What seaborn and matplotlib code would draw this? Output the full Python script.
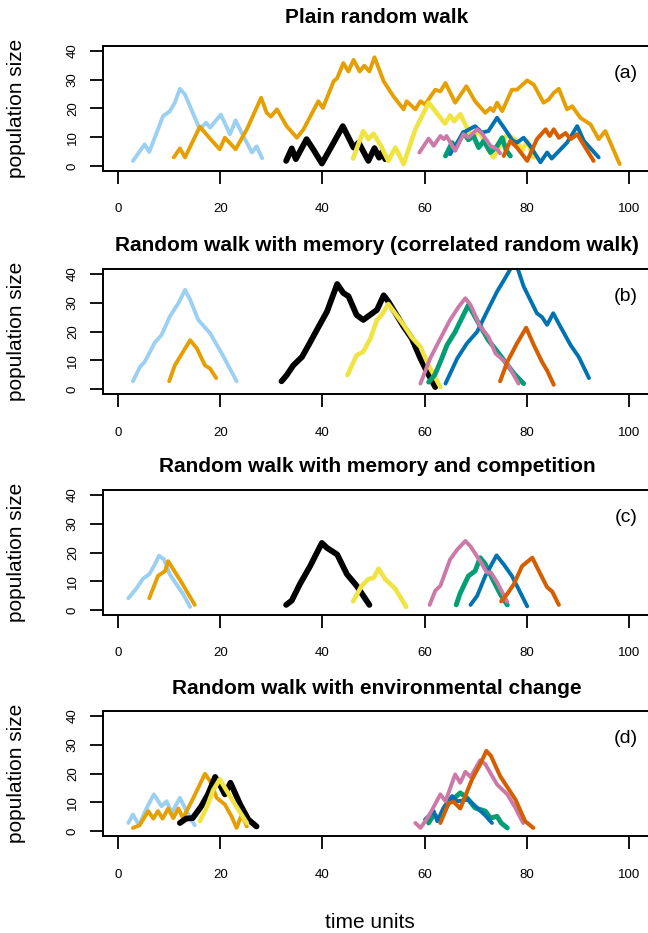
import numpy as np
import pandas as pd
import matplotlib
matplotlib.use("Agg")
import matplotlib.pyplot as plt
import seaborn as sns

# ---------------- data ----------------
titles = ["Plain random walk",
          "Random walk with memory (correlated random walk)",
          "Random walk with memory and competition",
          "Random walk with environmental change"]
panel_labels = ["(a)", "(b)", "(c)", "(d)"]
x_ticks = [0, 20, 40, 60, 80, 100]
y_ticks = [0, 10, 20, 30, 40]
species = ["lightblue", "orange", "black", "yellow", "green", "blue", "pink", "vermillion"]
colors = {"lightblue": "#9BD0F2", "orange": "#E69F00", "black": "#000000",
          "yellow": "#F0E442", "green": "#009E73", "blue": "#0072B2",
          "pink": "#CC79A7", "vermillion": "#D55E00"}
widths = {"lightblue": 2.8, "orange": 2.8, "black": 4.2, "yellow": 3.3,
          "green": 3.5, "blue": 2.8, "pink": 2.8, "vermillion": 2.9}

# panel (a) plain random walk
a_lightblue_t = [2.9, 5.2, 6.1, 8.8, 10.1, 11.1, 12.1, 13.1, 16.0, 17.2, 18.0, 20.1, 21.9, 23.0, 24.5, 26.2, 27.1, 28.2]
a_lightblue_v = [1.9, 7.6, 5.0, 17.4, 19.0, 22.0, 26.8, 24.8, 12.8, 15.1, 13.4, 17.9, 11.1, 15.9, 10.5, 4.8, 6.9, 2.8]
a_orange_t = [10.9, 12.1, 13.1, 16.0, 18.0, 19.9, 20.9, 23.0, 25.2, 28.0, 29.1, 29.9, 31.1, 33.0, 35.0, 36.3,
              39.2, 40.1, 42.2, 42.9, 44.1, 45.1, 46.1, 47.3, 48.2, 49.2, 50.2, 52.0, 53.9, 55.9, 56.5, 58.2,
              59.2, 60.1, 62.1, 63.1, 64.1, 66.0, 68.2, 69.9, 71.9, 72.9, 73.5, 74.2, 75.2, 77.1, 78.1, 80.1,
              81.4, 83.3, 84.3, 85.3, 86.3, 87.9, 88.9, 90.5, 92.5, 94.1, 95.4, 98.2]
a_orange_v = [3.1, 6.2, 3.1, 13.7, 9.6, 5.9, 9.9, 5.9, 12.8, 23.7, 18.5, 17.2, 19.7, 13.9, 9.9, 12.8,
              22.5, 20.2, 29.4, 30.5, 35.7, 32.8, 36.8, 32.8, 34.8, 32.8, 37.7, 29.4, 24.2, 19.7, 22.5, 19.7,
              22.5, 21.4, 26.5, 25.9, 28.8, 22.0, 27.7, 22.5, 18.5, 20.2, 19.1, 22.0, 19.1, 26.5, 26.5, 29.7,
              28.2, 22.0, 23.1, 25.4, 26.8, 19.7, 20.8, 16.8, 14.5, 9.4, 12.2, 0.8]
a_black_t = [32.9, 34.0, 34.8, 36.9, 38.2, 39.9, 42.2, 44.0, 46.1, 47.1, 49.0, 50.2, 51.1, 51.7, 52.3]
a_black_v = [1.9, 6.2, 2.5, 9.4, 5.9, 1.0, 8.2, 13.9, 6.5, 8.2, 1.9, 6.3, 3.0, 5.0, 2.5]
a_yellow_t = [46.0, 48.0, 49.0, 50.0, 51.3, 52.9, 54.3, 55.9, 58.2, 60.8, 64.0, 65.0, 65.8, 67.0, 69.3, 70.6,
              73.5, 76.2, 77.2, 78.1, 79.1, 80.1, 81.3]
a_yellow_v = [2.7, 12.2, 9.4, 11.3, 7.6, 1.9, 6.5, 0.8, 12.8, 22.0, 14.8, 17.6, 15.6, 18.0, 9.9, 12.2,
              3.1, 11.1, 9.8, 8.8, 5.5, 8.8, 3.1]
a_pink_t = [59.0, 60.8, 61.8, 63.1, 63.8, 64.3, 66.0, 67.6, 68.6, 70.3, 71.2, 72.9, 74.2, 74.8]
a_pink_v = [4.8, 9.6, 7.1, 10.5, 9.4, 10.5, 5.4, 11.1, 10.0, 12.8, 11.5, 7.1, 5.9, 4.5]
a_green_t = [64.1, 65.4, 66.0, 67.6, 68.6, 69.6, 70.6, 71.6, 72.9, 74.2, 75.2, 76.0, 76.8]
a_green_v = [3.6, 8.2, 6.2, 11.7, 9.2, 10.5, 6.5, 8.8, 4.8, 7.0, 9.9, 5.5, 3.6]
a_blue_t = [65.0, 67.6, 69.9, 71.2, 72.5, 74.2, 76.2, 77.2, 78.1, 79.4, 80.7, 82.7, 84.0, 84.9, 87.9, 89.9, 91.2, 94.1]
a_blue_v = [4.2, 11.7, 13.9, 11.7, 12.2, 16.8, 11.7, 9.0, 8.2, 9.9, 7.0, 1.4, 4.8, 2.7, 8.2, 13.9, 8.8, 3.1]
a_vermillion_t = [75.5, 76.8, 78.1, 80.1, 82.0, 83.7, 84.5, 85.3, 86.3, 87.6, 88.6, 89.9, 90.9, 93.1]
a_vermillion_v = [3.6, 8.8, 6.5, 1.9, 9.4, 12.8, 10.5, 12.8, 9.9, 11.5, 9.4, 11.1, 8.2, 1.9]

# panel (b) correlated random walk
b_lightblue_t = [2.9, 4.3, 5.2, 7.2, 8.5, 10.1, 11.8, 13.1, 14.1, 15.7, 18.0, 20.3, 23.2]
b_lightblue_v = [2.8, 7.8, 9.5, 16.2, 18.8, 25.1, 29.8, 34.4, 31.0, 24.0, 19.4, 12.4, 2.8]
b_orange_t = [10.0, 11.1, 14.1, 15.4, 17.0, 18.0, 19.2]
b_orange_v = [2.8, 8.3, 17.0, 14.2, 8.3, 7.2, 3.9]
b_black_t = [32.0, 33.0, 34.3, 36.0, 37.3, 38.9, 40.9, 42.9, 44.1, 45.1, 46.7, 48.0, 50.7, 52.0, 52.9,
             55.9, 57.5, 59.2, 60.5, 62.1]
b_black_v = [2.8, 4.9, 8.3, 11.2, 15.3, 20.5, 26.9, 36.4, 33.3, 32.2, 25.7, 24.0, 27.5, 32.5, 30.4,
             21.7, 17.6, 10.7, 6.0, 0.8]
b_yellow_t = [44.9, 46.7, 48.0, 49.4, 50.7, 51.6, 52.9, 55.9, 57.5, 59.2, 60.8, 63.1]
b_yellow_v = [4.9, 11.8, 13.0, 17.6, 24.0, 25.7, 29.5, 22.3, 18.0, 14.7, 8.3, 0.8]
b_pink_t = [59.2, 61.1, 63.1, 65.0, 66.7, 68.0, 69.0, 70.9, 72.5, 73.9, 76.2, 78.4]
b_pink_v = [2.0, 10.7, 17.6, 24.0, 28.6, 31.5, 29.2, 21.7, 18.2, 12.4, 8.9, 2.0]
b_green_t = [60.8, 62.0, 63.1, 64.4, 66.0, 67.6, 68.6, 70.6, 72.5, 74.8, 77.5, 79.4]
b_green_v = [2.5, 5.0, 9.5, 15.3, 19.9, 25.7, 29.2, 22.8, 17.0, 11.8, 5.5, 2.0]
b_blue_t = [64.1, 66.4, 68.3, 70.3, 71.9, 74.2, 75.8, 77.1, 78.1, 79.4, 82.0, 83.0, 84.0, 85.2, 86.6, 88.6, 90.2, 92.2]
b_blue_v = [2.0, 10.7, 15.9, 19.9, 25.7, 33.8, 38.5, 42.5, 42.5, 35.6, 26.3, 25.0, 22.3, 26.3, 21.7, 15.3, 11.2, 3.9]
b_vermillion_t = [74.8, 76.2, 78.1, 79.9, 81.4, 83.0, 84.0, 85.3]
b_vermillion_v = [2.8, 9.5, 15.9, 21.3, 15.3, 9.5, 6.5, 1.6]

# panel (c) memory and competition
c_lightblue_t = [2.0, 3.6, 4.9, 6.1, 7.2, 8.0, 9.0, 10.1, 11.8, 12.7, 14.1]
c_lightblue_v = [4.2, 7.6, 11.0, 12.5, 15.9, 18.9, 17.6, 12.5, 8.0, 5.7, 1.2]
c_orange_t = [6.1, 7.8, 9.2, 9.8, 12.4, 15.0]
c_orange_v = [4.2, 11.9, 13.6, 17.0, 9.7, 1.9]
c_black_t = [32.9, 34.0, 35.6, 37.6, 39.9, 40.9, 42.9, 44.8, 46.7, 49.2]
c_black_v = [1.9, 3.4, 9.1, 15.3, 23.3, 21.6, 19.3, 12.5, 8.5, 1.9]
c_yellow_t = [46.0, 47.7, 49.0, 50.0, 51.0, 52.3, 54.3, 56.4]
c_yellow_v = [3.1, 8.5, 10.8, 11.2, 14.4, 10.8, 7.4, 1.2]
c_pink_t = [61.0, 62.1, 63.1, 65.0, 66.4, 68.0, 69.0, 70.9, 72.2, 73.0, 74.2, 76.2]
c_pink_v = [1.9, 6.8, 8.5, 17.6, 21.0, 24.0, 22.1, 17.0, 13.1, 13.1, 9.7, 2.9]
c_green_t = [66.2, 67.0, 68.6, 69.9, 70.9, 71.9, 73.5, 74.8, 76.2]
c_green_v = [1.9, 6.0, 11.9, 13.6, 18.2, 16.0, 10.2, 5.7, 1.9]
c_blue_t = [69.0, 70.3, 71.9, 74.1, 75.5, 77.1, 78.4, 80.1]
c_blue_v = [1.9, 5.0, 11.9, 19.0, 15.9, 11.9, 7.4, 1.4]
c_vermillion_t = [75.0, 76.2, 77.5, 79.1, 81.1, 82.7, 84.0, 85.0, 86.3]
c_vermillion_v = [3.1, 5.7, 9.1, 15.3, 18.2, 12.5, 8.0, 6.5, 1.9]

# panel (d) environmental change
d_lightblue_t = [2.0, 2.9, 4.1, 5.6, 7.0, 8.5, 9.5, 10.5, 12.1, 13.4, 15.0]
d_lightblue_v = [2.9, 5.8, 2.1, 8.1, 12.8, 8.7, 10.4, 6.4, 11.6, 7.0, 2.1]
d_orange_t = [2.9, 4.2, 5.9, 6.9, 7.8, 8.7, 9.8, 10.8, 11.8, 12.7, 14.4, 15.7, 17.0, 18.0, 19.3,
              20.9, 22.2, 23.2, 24.2, 25.2]
d_orange_v = [1.2, 2.1, 7.0, 4.4, 7.0, 4.4, 7.9, 4.6, 7.9, 4.6, 10.4, 15.1, 19.9, 17.4, 11.6,
              9.3, 5.2, 1.2, 5.8, 1.7]
d_black_t = [12.1, 13.3, 14.6, 16.3, 17.6, 19.0, 19.9, 20.9, 22.0, 23.9, 25.5, 27.1]
d_black_v = [2.9, 4.4, 4.6, 8.7, 12.8, 18.8, 16.2, 12.8, 16.8, 9.3, 4.1, 1.7]
d_yellow_t = [16.0, 17.3, 18.6, 19.9, 21.1, 22.9, 25.2]
d_yellow_v = [3.5, 8.1, 14.2, 18.0, 14.5, 9.3, 2.9]
d_pink_t = [58.2, 59.2, 60.8, 63.1, 64.1, 66.0, 67.0, 68.0, 69.0, 70.9, 71.9, 74.2, 76.2, 77.8, 79.3]
d_pink_v = [2.9, 1.2, 5.2, 12.8, 10.4, 19.7, 16.8, 20.6, 18.8, 24.6, 23.2, 16.2, 12.8, 8.1, 2.9]
d_green_t = [60.8, 61.8, 63.1, 64.7, 67.0, 68.3, 69.9, 71.9, 72.9, 74.2, 75.0, 76.2]
d_green_v = [2.9, 5.8, 4.1, 9.8, 13.3, 11.6, 8.1, 7.0, 4.6, 5.2, 2.9, 1.2]
d_blue_t = [60.1, 61.8, 62.5, 63.7, 65.4, 66.4, 68.6, 70.3, 71.9, 73.2]
d_blue_v = [4.1, 7.0, 3.5, 8.1, 12.2, 10.4, 11.0, 8.1, 5.5, 2.9]
d_vermillion_t = [63.1, 64.7, 65.7, 67.0, 69.3, 70.9, 72.1, 73.0, 74.8, 77.8, 79.7, 81.3]
d_vermillion_v = [2.9, 9.8, 10.2, 7.9, 18.0, 23.2, 27.8, 26.1, 19.1, 11.0, 3.5, 1.2]

g = globals()

def panel_frame(prefix):
    frames = []
    for sp in species:
        frames.append(pd.DataFrame({"time": g[f"{prefix}_{sp}_t"],
                                    "size": g[f"{prefix}_{sp}_v"],
                                    "species": sp}))
    return pd.concat(frames, ignore_index=True)

# ---------------- drawing ----------------
sns.set_style("ticks")
plt.rcParams["font.family"] = ["Liberation Sans", "DejaVu Sans"]
for key in ["text.color", "axes.labelcolor", "xtick.color", "ytick.color", "axes.edgecolor"]:
    plt.rcParams[key] = "black"

W, H = 648, 933
fig = plt.figure(figsize=(W / 100, H / 100), dpi=100)

ax_left, ax_right = 103, 651
ax_h = 125
tops = [46, 269, 490, 711]
title_pads = [16.5, 13.3, 12.6, 12.0]
x_max = -2.96 + (ax_right - ax_left) / 5.107

for i, prefix in enumerate(["a", "b", "c", "d"]):
    top = tops[i]
    ax = fig.add_axes([ax_left / W, 1 - (top + ax_h) / H, (ax_right - ax_left) / W, ax_h / H])
    df = panel_frame(prefix)
    for sp in species:
        sub = df[df["species"] == sp]
        sns.lineplot(data=sub, x="time", y="size", color=colors[sp], lw=widths[sp],
                     sort=False, estimator=None, ax=ax,
                     solid_capstyle="round", solid_joinstyle="round")
    ax.set_xlim(-2.96, x_max)
    ax.set_ylim(-1.6, 41.6)
    ax.set_xticks(x_ticks)
    ax.set_yticks(y_ticks)
    ax.set_xlabel("")
    ax.set_ylabel("")
    ax.tick_params(axis="x", length=9.4, width=1.3, pad=14, labelsize=9.5, direction="out",
                   colors="black")
    ax.tick_params(axis="y", length=9.4, width=1.3, pad=8, labelsize=9.5, direction="out",
                   labelrotation=90, colors="black")
    for lab in ax.get_yticklabels():
        lab.set_va("center")
    for s in ax.spines.values():
        s.set_linewidth(1.4)
        s.set_color("black")
    ax.set_title(titles[i], fontsize=15, fontweight="bold", pad=title_pads[i], color="black")
    ax.text(0.958 * 546 / (ax_right - ax_left), 0.78, panel_labels[i], transform=ax.transAxes,
            fontsize=14, ha="center", va="center", color="black")
    fig.text(17 / W, 1 - (top + ax_h / 2) / H, "population size", rotation=90,
             ha="center", va="center", fontsize=15, color="black")

fig.text(370 / W, 1 - 922 / H, "time units", ha="center", va="center", fontsize=15, color="black")

fig.savefig("out.png", dpi=100)
